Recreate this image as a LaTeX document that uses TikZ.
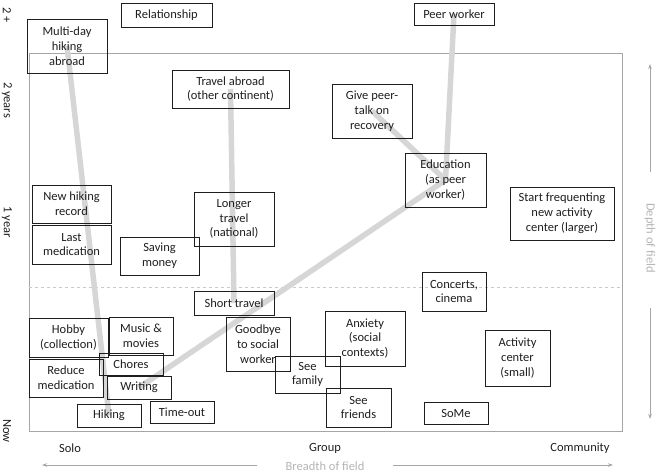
\documentclass[tikz,border=0pt]{standalone}
\usepackage{fontspec}
\setmainfont{Carlito}
\usetikzlibrary{arrows.meta,backgrounds}
\definecolor{linkgray}{HTML}{D6D6D6}
\definecolor{framegray}{HTML}{A6A6A6}
\definecolor{lightlab}{HTML}{B4B4B4}
\definecolor{ink}{HTML}{1E1E1E}
\tikzset{
  box/.style={draw=ink, line width=0.9pt, inner sep=0pt, align=center, text=ink,
    font=\fontsize{12.5}{14.8}\selectfont},
  link/.style={draw=linkgray, line width=5.5pt},
  axlab/.style={text=ink, font=\fontsize{12.5}{14}\selectfont},
  graylab/.style={text=lightlab, font=\fontsize{12.5}{14}\selectfont},
  axarrow/.style={draw=framegray, line width=0.8pt, -{Stealth[length=5pt,width=3.5pt]}}
}
\begin{document}
\begin{tikzpicture}[x=1pt,y=-1pt]
\useasboundingbox (0,0) rectangle (660,475);
% boxes
\node[box, minimum width=91pt, minimum height=24pt] (rel) at (166.5,15) {Relationship};
\node[box, minimum width=80pt, minimum height=54pt] (multi) at (67,46) {Multi-day\\hiking\\abroad};
\node[box, minimum width=117pt, minimum height=38pt] (travab) at (230.5,89) {Travel abroad\\(other continent)};
\node[box, minimum width=79pt, minimum height=38pt] (newhike) at (71.5,204) {New hiking\\record};
\node[box, minimum width=79pt, minimum height=39pt] (lastmed) at (71.5,244.5) {Last\\medication};
\node[box, minimum width=80pt, minimum height=54pt] (longer) at (234,219) {Longer\\travel\\(national)};
\node[box, minimum width=79pt, minimum height=38pt] (saving) at (159.5,256) {Saving\\money};
\node[box, minimum width=80pt, minimum height=22pt] (peer) at (454,14) {Peer worker};
\node[box, minimum width=80pt, minimum height=54pt] (give) at (372,111) {Give peer-\\talk on\\recovery};
\node[box, minimum width=81pt, minimum height=54pt] (edu) at (445.5,180) {Education\\(as peer\\worker)};
\node[box, minimum width=104pt, minimum height=53pt] (start) at (562,213.5) {Start frequenting\\new activity\\center (larger)};
\node[box, minimum width=80pt, minimum height=24pt] (short) at (234,303) {Short travel};
\node[box, minimum width=79pt, minimum height=39pt] (hobby) at (68.5,337.5) {Hobby\\(collection)};
\node[box, minimum width=64pt, minimum height=38pt] (music) at (141,336) {Music \&\\movies};
\node[box, minimum width=64pt, minimum height=22pt] (chores) at (131,364) {Chores};
\node[box, minimum width=74pt, minimum height=38pt] (reduce) at (66,378) {Reduce\\medication};
\node[box, minimum width=64pt, minimum height=23pt] (writing) at (139,387.5) {Writing};
\node[box, minimum width=64pt, minimum height=23pt] (hiking) at (109,415.5) {Hiking};
\node[box, minimum width=64pt, minimum height=22pt] (timeout) at (182,412) {Time-out};
\node[box, minimum width=64pt, minimum height=54pt] (goodbye) at (258,344) {Goodbye\\to social\\worker};
\node[box, minimum width=65pt, minimum height=37pt] (family) at (307.5,374.5) {See\\family};
\node[box, minimum width=80pt, minimum height=55pt] (anxiety) at (365,338.5) {Anxiety\\(social\\contexts)};
\node[box, minimum width=65pt, minimum height=39pt] (friends) at (358.5,407.5) {See\\friends};
\node[box, minimum width=64pt, minimum height=39pt] (concerts) at (454,291.5) {Concerts,\\cinema};
\node[box, minimum width=65pt, minimum height=56pt] (activity) at (517.5,358) {Activity\\center\\(small)};
\node[box, minimum width=64pt, minimum height=22pt] (some) at (456,413) {SoMe};
% frame and links behind
\begin{scope}[on background layer]
\draw[framegray, line width=0.8pt] (29,53) rectangle (622,431);
\draw[framegray!60, dashed, line width=0.6pt] (29,287) -- (622,287);
\draw[link] (multi.center) -- (hiking.center);
\draw[link] (travab.center) -- (short.center);
\draw[link] (peer.center) -- (edu.center);
\draw[link] (give.center) -- (edu.center);
\draw[link] (edu.center) -- (writing.center);
\end{scope}
% axis labels
\node[axlab, rotate=-90] (t2p) at (7,15) {2 +};
\node[axlab, rotate=-90] (t2y) at (7,100) {2 years};
\node[axlab, rotate=-90] (t1y) at (7,222) {1 year};
\node[axlab, rotate=-90] (tnow) at (7,431) {Now};
\node[axlab] (solo) at (70,448) {Solo};
\node[axlab] (group) at (325,448) {Group};
\node[axlab] (comm) at (580,448) {Community};
\node[graylab] (breadth) at (325,466) {Breadth of field};
\node[graylab, rotate=-90] (depth) at (650,238) {Depth of field};
\coordinate (bl1) at (257,465); \coordinate (bl2) at (42,465);
\coordinate (br1) at (393,465); \coordinate (br2) at (613,465);
\coordinate (du1) at (650,172); \coordinate (du2) at (650,64);
\coordinate (dd1) at (650,308); \coordinate (dd2) at (650,419);
\draw[axarrow] (bl1) -- (bl2);
\draw[axarrow] (br1) -- (br2);
\draw[axarrow] (du1) -- (du2);
\draw[axarrow] (dd1) -- (dd2);
\end{tikzpicture}
\end{document}
